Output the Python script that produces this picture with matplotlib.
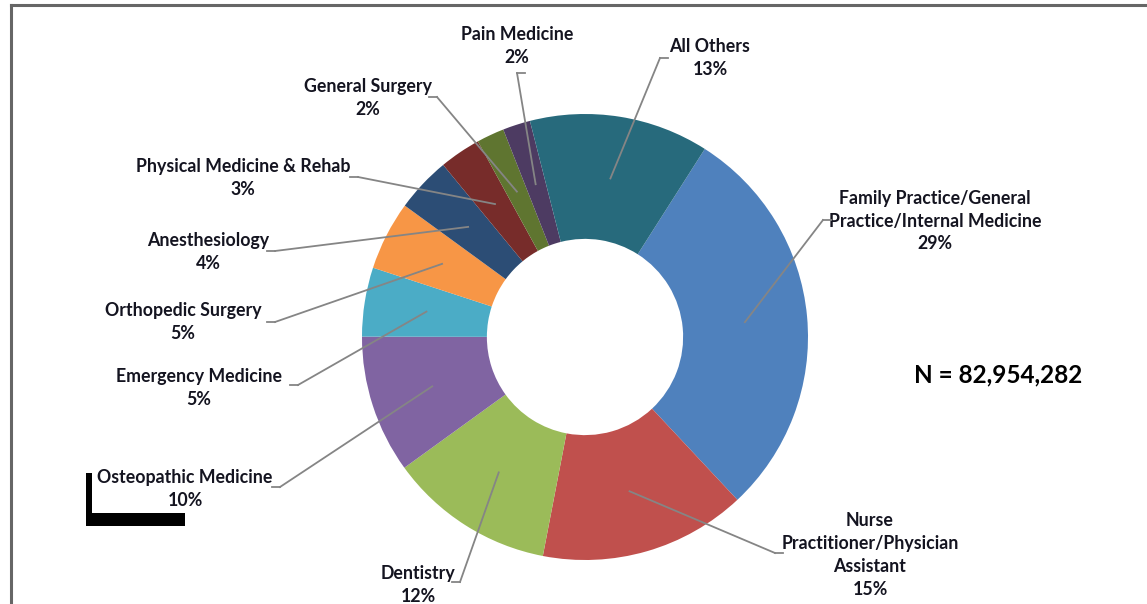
import numpy as np
import matplotlib.pyplot as plt
from matplotlib.patches import Rectangle

# data, clockwise from the top-right slice
labels = ["Family Practice/General\nPractice/Internal Medicine", "Nurse\nPractitioner/Physician\nAssistant",
          "Dentistry", "Osteopathic Medicine", "Emergency Medicine", "Orthopedic Surgery",
          "Anesthesiology", "Physical Medicine & Rehab", "General Surgery", "Pain Medicine", "All Others"]
shares = [29, 15, 12, 10, 5, 5, 4, 3, 2, 2, 13]
colors = ["#4F81BD", "#C0504D", "#9BBB59", "#8064A2", "#4BACC6", "#F79646",
          "#2C4D75", "#772C2A", "#5F7530", "#4D3B62", "#276A7C"]
total_n = "82,954,282"

# label layout in pixel coords (x, y from top) and leader elbows
label_pos = [(935, 221), (870, 555), (418, 585), (185, 489), (199, 388), (183, 322),
             (208, 252), (243, 178), (368, 98), (517, 46), (710, 58)]
elbows = [(823, 220), (775, 553), (460, 582), (280, 487), (298, 385), (275, 322),
          (275, 251), (358, 177), (437, 97), (517, 73), (660, 58)]

W, H = 1147, 604
cx, cy, R = 585, H - 337, 223
start = 57.5

plt.rcParams['font.family'] = ['Lato', 'DejaVu Sans']
fig = plt.figure(figsize=(W / 100, H / 100), dpi=100)
ax = fig.add_axes([0, 0, 1, 1])

wedges, _ = ax.pie(shares, colors=colors, startangle=start, counterclock=False,
                   radius=R, center=(cx, cy),
                   wedgeprops=dict(width=R * 0.56, linewidth=0))
ax.set_xlim(0, W)
ax.set_ylim(0, H)
ax.set_aspect('equal')
ax.axis('off')

# leader lines and labels
for w, lab, val, (lx, ly), (ex, ey) in zip(wedges, labels, shares, label_pos, elbows):
    mid = np.deg2rad((w.theta1 + w.theta2) / 2)
    ax_x = cx + 0.72 * R * np.cos(mid)
    ax_y = cy + 0.72 * R * np.sin(mid)
    ax.plot([ex, ax_x], [H - ey, ax_y], color="#858585", lw=1.3, zorder=5)
    side = -8 if ex > lx else 8
    ax.plot([ex + side, ex], [H - ey, H - ey], color="#858585", lw=1.3, zorder=5)
    ax.text(lx, H - ly, f"{lab}\n{val}%", ha='center', va='center', fontsize=12.8,
            fontweight='bold', color='#141420', linespacing=1.42)

ax.text(998, H - 375, f"N = {total_n}", ha='center', va='center', fontsize=17.5,
        fontweight='bold', color='black')

# chart border and stray marks from the source page
ax.plot([11, W], [H - 5, H - 5], color="#666666", lw=2.2, clip_on=False)
ax.plot([11, 11], [H - 5, 0], color="#666666", lw=2.2, clip_on=False)
ax.add_patch(Rectangle((86, H - 526), 6, 53, color='black', lw=0))
ax.add_patch(Rectangle((86, H - 526), 99, 13, color='black', lw=0))

fig.savefig("out.png", dpi=100)
